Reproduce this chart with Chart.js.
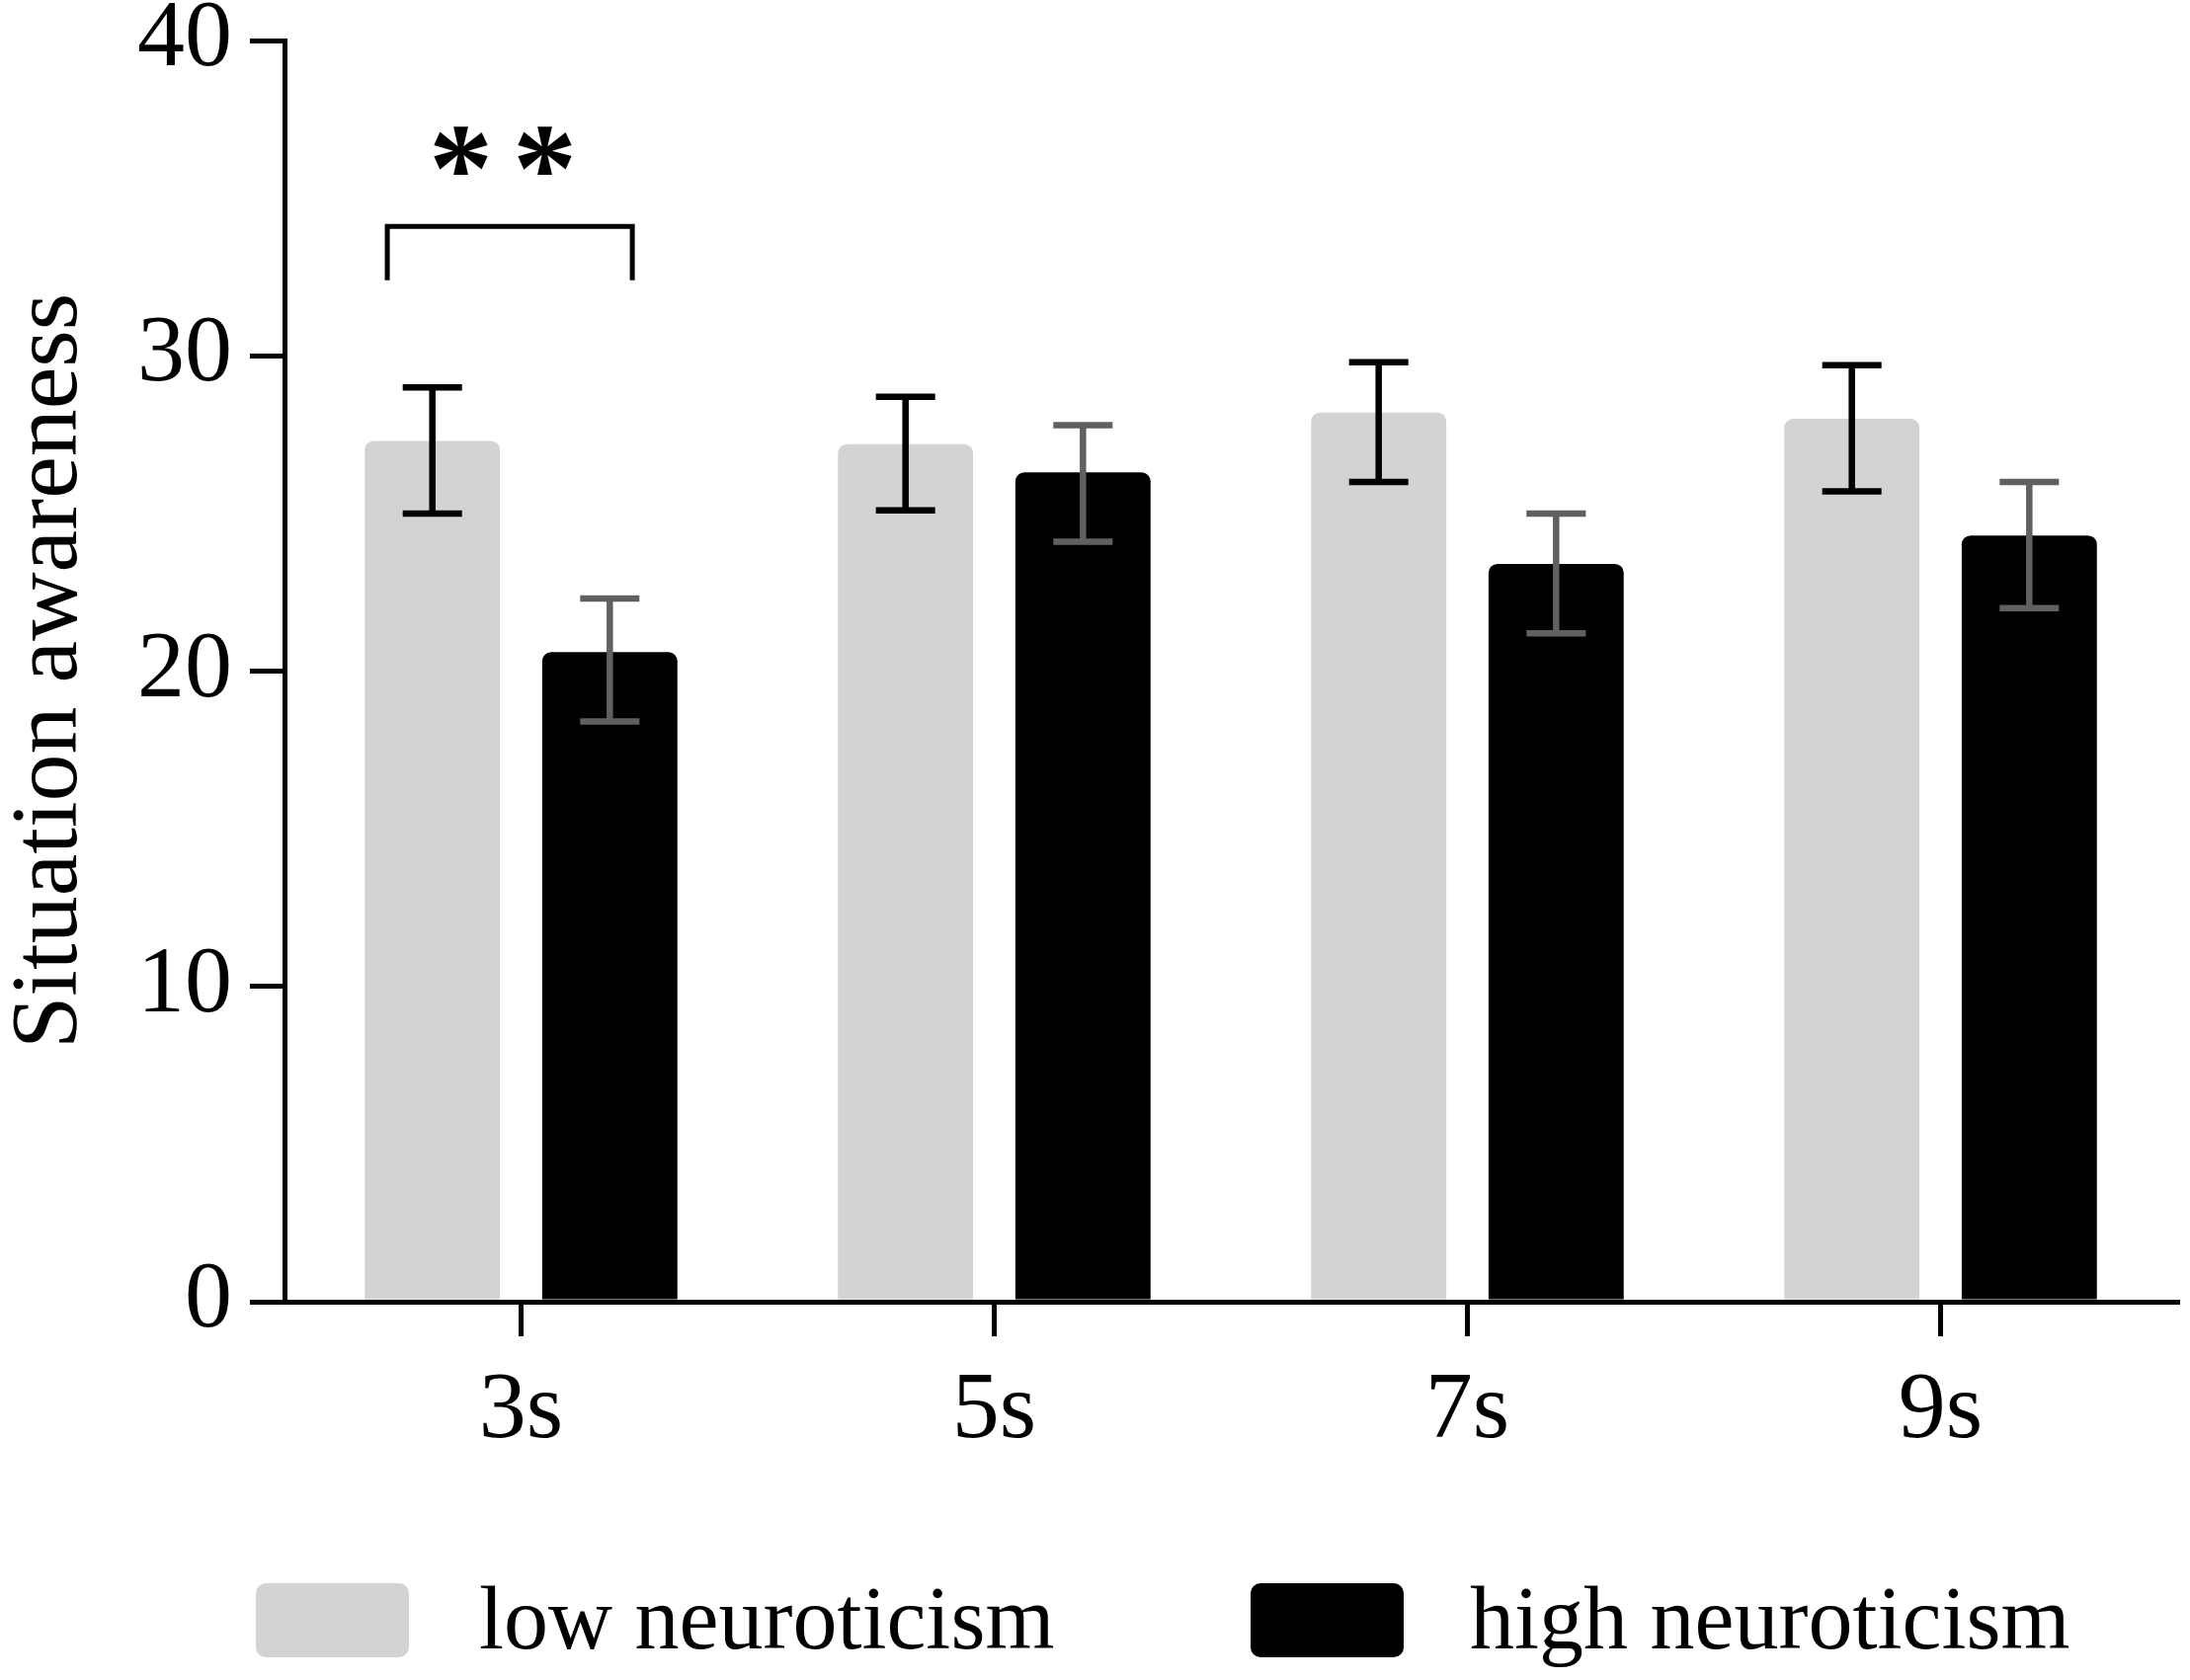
<!DOCTYPE html>
<html><head><meta charset="utf-8">
<script src="https://cdn.jsdelivr.net/npm/chart.js@4.4.1/dist/chart.umd.min.js"></script>
<style>html,body{margin:0;padding:0;background:#fff;overflow:hidden}canvas{display:block}</style>
</head><body>
<div style="width:2217px;height:1701px;position:relative"><canvas id="c" width="2217" height="1701"></canvas></div>
<script>
// ---- data ----
const categories = ['3s', '5s', '7s', '9s'];
const seriesNames = ['low neuroticism', 'high neuroticism'];
const lowMeans = [27.3, 27.2, 28.2, 28.0];
const highMeans = [20.6, 26.3, 23.4, 24.3];
const lowErrUpper = [29.0, 28.7, 29.8, 29.7];
const lowErrLower = [25.0, 25.1, 26.0, 25.7];
const highErrUpper = [22.3, 27.8, 25.0, 26.0];
const highErrLower = [18.4, 24.1, 21.2, 22.0];
const yTicks = [0, 10, 20, 30, 40];
const yTitle = 'Situation awareness';
const sigCategory = [0];
const sigBracketTop = [34.1];
const sigBracketLeg = [32.4];
const sigStarY = [36.5];
const sigLabel = ['* *'];

// ---- style ----
const FONT = 'Liberation Serif';
const lowColor = '#d3d3d3';
const highColor = '#000000';
const errColors = ['#000000', '#606060'];

const errorBarPlugin = {
  id: 'errorBars',
  afterDatasetsDraw(chart) {
    const ctx = chart.ctx, y = chart.scales.y;
    const sets = [[lowErrUpper, lowErrLower], [highErrUpper, highErrLower]];
    sets.forEach((s, di) => {
      const meta = chart.getDatasetMeta(di);
      meta.data.forEach((bar, i) => {
        const x = bar.x, yt = y.getPixelForValue(s[0][i]), yb = y.getPixelForValue(s[1][i]);
        ctx.save();
        ctx.strokeStyle = errColors[di];
        ctx.lineWidth = 6.5;
        ctx.lineCap = 'butt';
        ctx.beginPath();
        ctx.moveTo(x, yt); ctx.lineTo(x, yb);
        ctx.moveTo(x - 30, yt); ctx.lineTo(x + 30, yt);
        ctx.moveTo(x - 30, yb); ctx.lineTo(x + 30, yb);
        ctx.stroke();
        ctx.restore();
      });
    });
  }
};

const sigPlugin = {
  id: 'sig',
  afterDraw(chart) {
    const ctx = chart.ctx, y = chart.scales.y;
    sigCategory.forEach((c, k) => {
      const b0 = chart.getDatasetMeta(0).data[c], b1 = chart.getDatasetMeta(1).data[c];
      const xl = b0.x - b0.width / 3, xr = b1.x + b1.width / 6;
      const yt = y.getPixelForValue(sigBracketTop[k]), yl = y.getPixelForValue(sigBracketLeg[k]);
      ctx.save();
      ctx.strokeStyle = '#000'; ctx.lineWidth = 5; ctx.lineJoin = 'miter';
      ctx.beginPath();
      ctx.moveTo(xl, yl); ctx.lineTo(xl, yt); ctx.lineTo(xr, yt); ctx.lineTo(xr, yl);
      ctx.stroke();
      const stars = sigLabel[k].split(' ');
      const mid = (xl + xr) / 2 - 7;
      const ys = y.getPixelForValue(sigStarY[k]);
      ctx.fillStyle = '#000';
      ctx.font = 'bold 130px "' + FONT + '"';
      ctx.textAlign = 'center';
      ctx.textBaseline = 'alphabetic';
      stars.forEach((s, j) => {
        const m = ctx.measureText(s);
        const off = (m.actualBoundingBoxAscent - m.actualBoundingBoxDescent) / 2;
        const xs = mid + (j - (stars.length - 1) / 2) * 85;
        ctx.fillText(s, xs, ys + off);
      });
      ctx.restore();
    });
  }
};

const legendPlugin = {
  id: 'customLegend',
  afterDraw(chart) {
    const ctx = chart.ctx;
    const items = [
      { x: 259, tx: 485 },
      { x: 1266, tx: 1488 }
    ];
    ctx.save();
    chart.data.datasets.forEach((ds, i) => {
      const it = items[i];
      ctx.fillStyle = ds.backgroundColor;
      ctx.beginPath();
      ctx.roundRect(it.x, 1603, 155, 75, 10);
      ctx.fill();
      ctx.fillStyle = '#000';
      ctx.font = '90px "' + FONT + '"';
      ctx.textAlign = 'left';
      ctx.textBaseline = 'alphabetic';
      ctx.fillText(ds.label, it.tx, 1669);
    });
    ctx.restore();
  }
};

new Chart(document.getElementById('c'), {
  type: 'bar',
  data: {
    labels: categories,
    datasets: [
      { label: seriesNames[0], data: lowMeans, backgroundColor: lowColor,
        borderRadius: { topLeft: 9, topRight: 9, bottomLeft: 0, bottomRight: 0 }, borderSkipped: false },
      { label: seriesNames[1], data: highMeans, backgroundColor: highColor,
        borderRadius: { topLeft: 9, topRight: 9, bottomLeft: 0, bottomRight: 0 }, borderSkipped: false }
    ]
  },
  options: {
    responsive: false,
    devicePixelRatio: 1,
    animation: false,
    events: [],
    categoryPercentage: 0.75,
    barPercentage: 0.762,
    layout: { padding: { top: 41, right: 13, left: 0, bottom: 0 } },
    plugins: { legend: { display: false }, tooltip: { enabled: false }, title: { display: false } },
    scales: {
      x: {
        z: 1,
        grid: { offset: false, drawOnChartArea: false, drawTicks: true, tickLength: 35, tickWidth: 5, tickColor: '#000', lineWidth: 5, color: '#000' },
        border: { display: true, color: '#000', width: 5 },
        ticks: { font: { family: FONT, size: 96, lineHeight: 0.8 }, color: '#000', padding: 38, maxRotation: 0 },
        afterFit: s => { s.height = 383; }
      },
      y: {
        min: 0, max: 40,
        afterBuildTicks: s => { s.ticks = yTicks.map(v => ({ value: v })); },
        ticks: { font: { family: FONT, size: 96, lineHeight: 0.4 }, color: '#000', padding: 18 },
        grid: { drawOnChartArea: false, drawTicks: true, tickLength: 35, tickWidth: 5, tickColor: '#000', lineWidth: 5, color: '#000' },
        border: { display: true, color: '#000', width: 5 },
        title: { display: true, text: yTitle, color: '#000', font: { family: FONT, size: 96, lineHeight: 0.9 }, padding: { top: 9, bottom: 0 } },
        afterFit: s => { s.width = 288; }
      }
    }
  },
  plugins: [errorBarPlugin, sigPlugin, legendPlugin]
});
</script>
</body></html>
